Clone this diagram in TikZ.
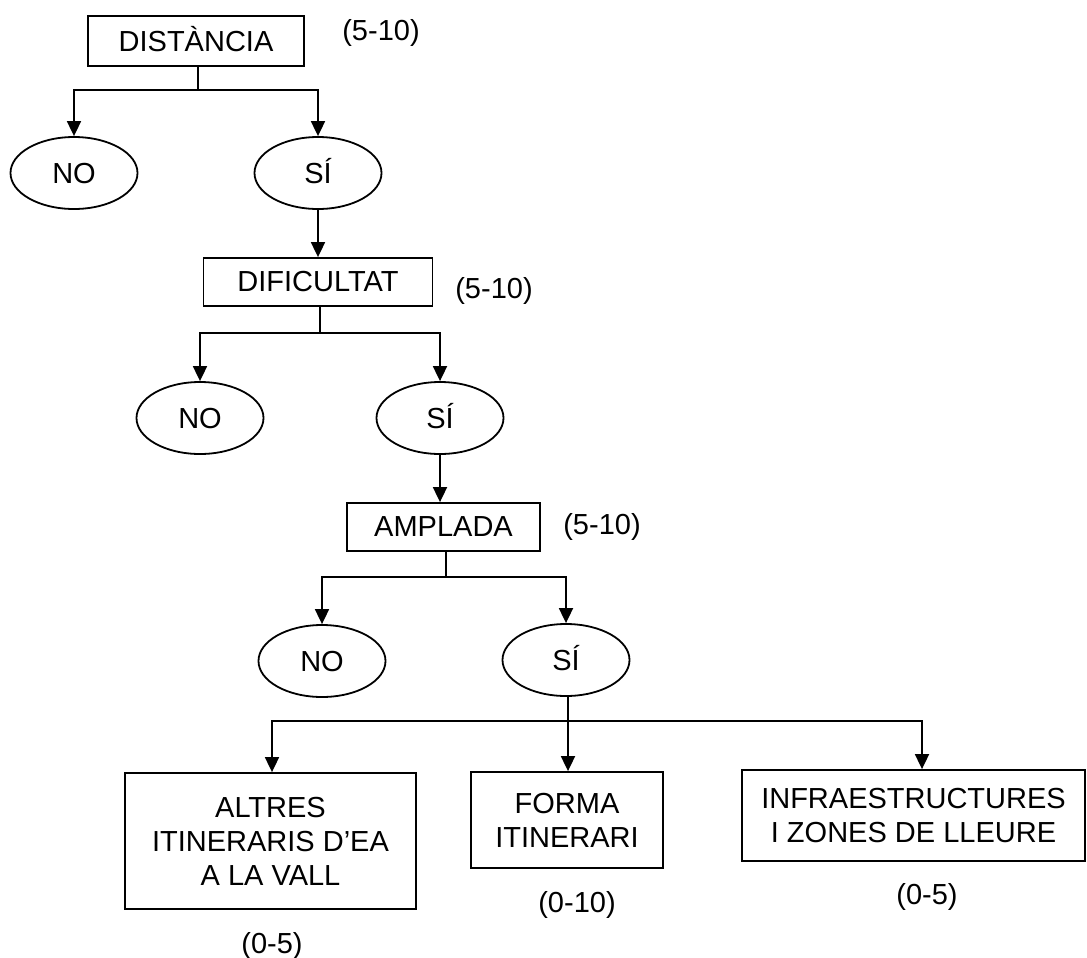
\documentclass[tikz,border=0pt]{standalone}
\usepackage{fontspec}
\setmainfont{Liberation Sans}
\usetikzlibrary{arrows.meta,shapes.geometric}
\begin{document}
\begin{tikzpicture}[x=1pt,y=-1pt,
  every node/.style={font=\fontsize{29}{34}\selectfont, inner sep=0pt},
  boxnode/.style={draw, line width=1.8pt, rectangle, align=center},
  ovalnode/.style={draw, line width=1.8pt, ellipse, minimum width=127pt, minimum height=72pt, text height=21pt, text depth=0pt},
  conn/.style={line width=1.8pt},
  arr/.style={conn, -{Triangle[width=14pt,length=15pt]}}]
\useasboundingbox (0,0) rectangle (1087,958);
% nodes
\node[boxnode, minimum width=216pt, minimum height=50pt, text height=21pt, text depth=0pt] (dist) at (196,41) {DISTÀNCIA};
\node (l1) at (381,33) {(5-10)};
\node[ovalnode] (no1) at (74,173) {NO};
\node[ovalnode] (si1) at (318,173) {SÍ};
\node[boxnode, minimum width=229pt, minimum height=48pt] (dif) at (318,282) {DIFICULTAT};
\node (l2) at (494,291) {(5-10)};
\node[ovalnode] (no2) at (200,418) {NO};
\node[ovalnode] (si2) at (440,418) {SÍ};
\node[boxnode, minimum width=193pt, minimum height=48pt] (amp) at (443.5,527) {AMPLADA};
\node (l3) at (602,527) {(5-10)};
\node[ovalnode] (no3) at (322,661) {NO};
\node[ovalnode] (si3) at (566,660) {SÍ};
\node[boxnode, minimum width=291pt, minimum height=136pt] (alt) at (270.5,841) {ALTRES\\ITINERARIS D’EA\\A LA VALL};
\node[boxnode, minimum width=192pt, minimum height=96pt] (for) at (567,820) {FORMA\\ITINERARI};
\node[boxnode, minimum width=343pt, minimum height=91pt] (inf) at (913.5,815.5) {INFRAESTRUCTURES\\I ZONES DE LLEURE};
\node (l4) at (272,946) {(0-5)};
\node (l5) at (577,905) {(0-10)};
\node (l6) at (927,897) {(0-5)};
% connectors
\coordinate (j1) at (198,90);
\draw[conn] (dist.south -| j1) -- (j1);
\draw[arr] (j1) -| (no1.north);
\draw[arr] (j1) -| (si1.north);
\draw[arr] (si1.south) -- (dif.north);
\coordinate (j2) at (320,333);
\draw[conn] (dif.south -| j2) -- (j2);
\draw[arr] (j2) -| (no2.north);
\draw[arr] (j2) -| (si2.north);
\draw[arr] (si2.south) -- (si2.south |- amp.north);
\coordinate (j3) at (446,577);
\draw[conn] (amp.south -| j3) -- (j3);
\draw[arr] (j3) -| (no3.north);
\draw[arr] (j3) -| (si3.north);
\coordinate (j4) at (568,721);
\draw[arr] (si3.south -| j4) -- (for.north -| j4);
\draw[arr] (j4) -| ([xshift=1.5pt]alt.north);
\draw[arr] (j4) -| ([xshift=8.5pt]inf.north);
\end{tikzpicture}
\end{document}
